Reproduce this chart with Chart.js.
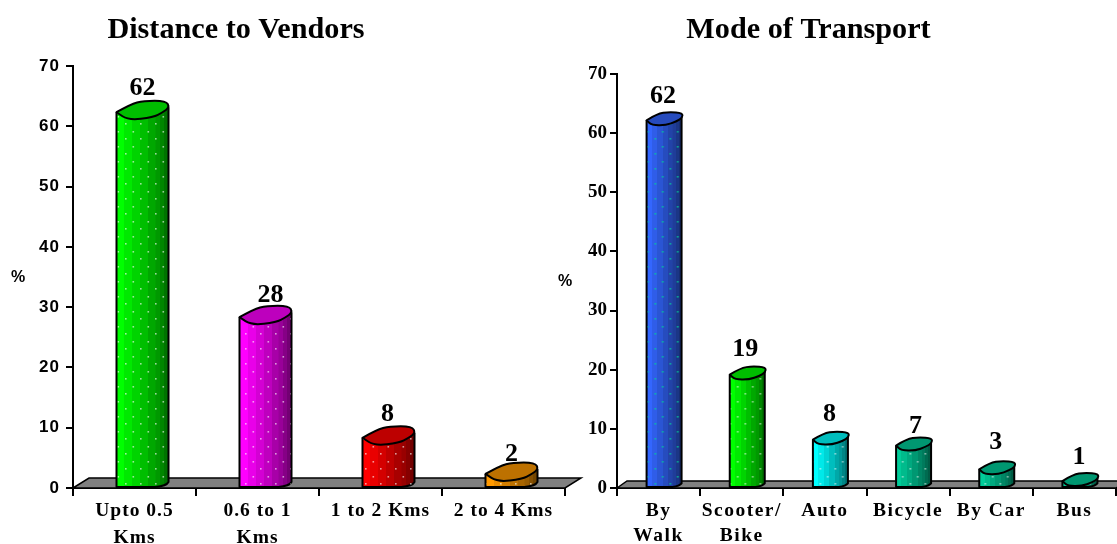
<!DOCTYPE html>
<html>
<head>
<meta charset="utf-8">
<script src="https://cdn.jsdelivr.net/npm/chart.js@4/dist/chart.umd.min.js"></script>
<style>
    html, body { margin: 0; padding: 0; background: #fff; overflow: hidden; }
    canvas { position: absolute; top: 0; }
    #distanceChart { left: 0; }
    #transportChart { left: 545px; }
</style>
</head>
<body>
<canvas id="distanceChart" width="585" height="544"></canvas>
<canvas id="transportChart" width="572" height="544"></canvas>
<script>
// Datos
const distanceLabels = [['Upto 0.5', 'Kms'], ['0.6 to 1', 'Kms'], '1 to 2 Kms', '2 to 4 Kms'];
const distanceValues = [62, 28, 8, 2];
const distanceColors = ['#00ff00', '#ff00ff', '#ff0000', '#ff9900'];

const transportLabels = [['By', 'Walk'], ['Scooter/', 'Bike'], 'Auto', 'Bicycle', 'By Car', 'Bus'];
const transportValues = [62, 19, 8, 7, 3, 1];
const transportColors = ['#3366ff', '#00ff00', '#00ffff', '#00cc99', '#00cc99', '#00cc99'];

const yTicks = [0, 10, 20, 30, 40, 50, 60, 70];

function shade(hex, f) {
    const n = parseInt(hex.slice(1), 16);
    return `rgb(${Math.round((n >> 16) * f)},${Math.round(((n >> 8) & 255) * f)},${Math.round((n & 255) * f)})`;
}

// Gradiente por bandas, como el relleno del cilindro
function bands(ctx, x0, x1, color, from, to, n) {
    const g = ctx.createLinearGradient(x0, 0, x1, 0);
    for (let i = 0; i < n; i++) {
        const c = shade(color, from + (to - from) * i / (n - 1));
        g.addColorStop(i / n, c);
        g.addColorStop((i + 1) / n, c);
    }
    return g;
}

function dotPattern(ctx, color) {
    const tile = document.createElement('canvas');
    tile.width = tile.height = 15;
    const t = tile.getContext('2d');
    t.fillStyle = color;
    t.fillRect(3, 3, 1.6, 1.6);
    t.fillRect(10.5, 11, 1.6, 1.6);
    return ctx.createPattern(tile, 'repeat');
}

// Chart.js no tiene letter-spacing para las etiquetas de los ejes
function spaceLabels(scale, spacing) {
    if (scale.spaced) return;
    scale.spaced = true;
    const original = scale.drawLabels;
    scale.drawLabels = function (area) {
        this.ctx.letterSpacing = spacing;
        original.call(this, area);
        this.ctx.letterSpacing = '0px';
    };
}

// Contorno cerrado suavizado, con la esquina izquierda en punta
function capPath(ctx, pts) {
    const n = pts.length;
    ctx.beginPath();
    ctx.moveTo(pts[0][0], pts[0][1]);
    for (let k = 1; k < n; k++) {
        const next = pts[(k + 1) % n];
        ctx.quadraticCurveTo(pts[k][0], pts[k][1], (pts[k][0] + next[0]) / 2, (pts[k][1] + next[1]) / 2);
    }
    ctx.closePath();
}

// Cara lateral y tapa de cada barra, mas el piso gris y los textos sueltos
const scene3d = {
    id: 'scene3d',
    afterLayout(chart) {
        const o = chart.options.plugins.scene3d;
        chart.titleBlock.left = o.titleX - 200;
        chart.titleBlock.right = o.titleX + 200;
        spaceLabels(chart.scales.x, o.xSpacing);
        spaceLabels(chart.scales.y, o.ySpacing);
    },
    beforeDatasetsDraw(chart) {
        const o = chart.options.plugins.scene3d;
        const { ctx, chartArea: a } = chart;
        ctx.save();
        ctx.beginPath();
        ctx.moveTo(a.left, a.bottom);
        ctx.lineTo(a.left + o.floorX, a.bottom - o.floorY);
        ctx.lineTo(a.right + o.floorX, a.bottom - o.floorY);
        ctx.lineTo(a.right, a.bottom);
        ctx.closePath();
        ctx.fillStyle = '#808080';
        ctx.fill();
        ctx.lineWidth = 1.5;
        ctx.strokeStyle = '#000';
        ctx.stroke();
        ctx.restore();
        ctx.save();
        ctx.translate(o.shift, 0);
    },
    afterDatasetsDraw(chart) {
        const o = chart.options.plugins.scene3d;
        const ctx = chart.ctx;
        const colors = chart.data.datasets[0].colors;
        chart.getDatasetMeta(0).data.forEach((bar, i) => {
            const x0 = bar.x - bar.width / 2;
            const x1 = bar.x + bar.width / 2;
            const xr = x1 + o.depth;
            const top = bar.y - o.capLift;
            const base = bar.base;
            const rise = Math.min(o.depth * 0.45, 5);

            // lateral
            ctx.beginPath();
            ctx.moveTo(x1 - 1, Math.min(top, base));
            ctx.lineTo(xr, Math.min(top - 5, base - rise));
            ctx.lineTo(xr, base - rise);
            ctx.quadraticCurveTo(xr - 2, base - 1, x1 - 1, base);
            ctx.closePath();
            ctx.fillStyle = bands(ctx, x1 - 1, xr, colors[i], 0.6, 0.45, 3);
            ctx.fill();
            ctx.lineWidth = 2;
            ctx.lineJoin = 'round';
            ctx.strokeStyle = '#000';

            // contorno izquierdo, inferior y derecho
            ctx.beginPath();
            ctx.moveTo(x0, top);
            ctx.lineTo(x0, base);
            ctx.lineTo(x1 - 1, base);
            ctx.quadraticCurveTo(xr - 2, base - 1, xr, base - rise);
            ctx.lineTo(xr, top - 5);
            ctx.stroke();

            // puntos sobre todo el cuerpo
            ctx.beginPath();
            ctx.rect(x0 + 1, top, xr - x0 - 2, base - top - 1);
            ctx.fillStyle = dotPattern(ctx, o.dots[i]);
            ctx.fill();

            // tapa
            const w = xr - x0;
            capPath(ctx, o.cap.map(p => [x0 + p[0] * w, top + p[1] * o.capH]));
            ctx.fillStyle = shade(colors[i], 0.74);
            ctx.fill();
            ctx.stroke();

            // valor
            ctx.save();
            ctx.fillStyle = '#000';
            ctx.font = 'bold 26px "Liberation Serif"';
            ctx.textAlign = 'center';
            ctx.textBaseline = 'middle';
            ctx.fillText(chart.data.datasets[0].data[i], bar.x + o.valueDx[i], bar.y + o.valueDy[i]);
            ctx.restore();
        });
        ctx.restore();

        // el signo % va derecho, no girado
        ctx.save();
        ctx.fillStyle = '#000';
        ctx.font = 'bold 16px "Liberation Sans"';
        ctx.textAlign = 'center';
        ctx.textBaseline = 'middle';
        ctx.fillText('%', o.percent[0], o.percent[1]);
        ctx.restore();
    }
};

function makeChart(id, labels, values, colors, s) {
    return new Chart(document.getElementById(id), {
        type: 'bar',
        data: {
            labels: labels,
            datasets: [{
                data: values,
                colors: colors,
                barThickness: s.front,
                borderWidth: 0,
                backgroundColor(c) {
                    const x = c.chart.scales.x ? c.chart.scales.x.getPixelForValue(c.dataIndex) : NaN;
                    if (!Number.isFinite(x)) return colors[c.dataIndex || 0];
                    return bands(c.chart.ctx, x - s.front / 2, x + s.front / 2, colors[c.dataIndex], 1, 0.66, 5);
                }
            }]
        },
        plugins: [scene3d],
        options: {
            responsive: false,
            animation: false,
            layout: { padding: { right: s.padRight, left: 0, top: 0, bottom: 0 } },
            plugins: {
                legend: { display: false },
                tooltip: { enabled: false },
                title: {
                    display: true,
                    text: s.title,
                    color: '#000',
                    font: { family: '"Liberation Serif"', size: 30.2, weight: 'bold', lineHeight: 1.2 },
                    padding: { top: 12, bottom: s.top - 12 - 36.24 }
                },
                scene3d: s
            },
            scales: {
                x: {
                    afterFit(scale) { scale.height = 544 - s.bottom; },
                    border: { color: '#000', width: 2 },
                    grid: { display: true, drawOnChartArea: false, color: '#000', lineWidth: 2, tickLength: 8 },
                    ticks: {
                        color: '#000', padding: 2, autoSkip: false, maxRotation: 0, minRotation: 0,
                        font: { family: '"Liberation Serif"', size: 19.5, weight: 'bold', lineHeight: s.xLine }
                    }
                },
                y: {
                    min: 0,
                    max: 70,
                    afterFit(scale) { scale.width = s.left; },
                    afterBuildTicks(scale) { scale.ticks = yTicks.map(v => ({ value: v })); },
                    border: { color: '#000', width: 2 },
                    grid: { display: true, drawOnChartArea: false, color: '#000', lineWidth: 2, tickLength: 7 },
                    ticks: { color: '#000', padding: s.yPad, font: s.yFont }
                }
            }
        }
    });
}

makeChart('distanceChart', distanceLabels, distanceValues, distanceColors, {
    title: 'Distance to Vendors', titleX: 236, top: 66, bottom: 488, left: 73, padRight: 20,
    front: 40, depth: 12, shift: 2, capLift: 2, capH: 16,
    cap: [[0, 0], [0.27, -0.5], [0.52, -0.72], [0.95, -0.72], [1.02, -0.3], [0.88, 0.02], [0.71, 0.32], [0.23, 0.5]],
    valueDx: [6, 11, 5, 6], valueDy: [-26, -24, -25, -22],
    dots: distanceColors.map(() => 'rgba(255,255,255,0.6)'),
    floorX: 16, floorY: 10, percent: [18, 278],
    xSpacing: '1px', ySpacing: '1px', xLine: 1.35,
    yPad: 6, yFont: { family: '"Liberation Sans"', size: 17, weight: 'bold' }
});

makeChart('transportChart', transportLabels, transportValues, transportColors, {
    title: 'Mode of Transport', titleX: 263.5, top: 74, bottom: 488, left: 72, padRight: 1,
    front: 27, depth: 8, shift: 1.5, capLift: 1, capH: 12,
    cap: [[0, 0], [0.3, -0.55], [0.65, -0.7], [1.03, -0.6], [1.02, -0.2], [0.85, 0.1], [0.55, 0.42], [0.15, 0.4]],
    valueDx: [3, 2, 3, 6, 3, 3], valueDy: [-25, -26, -26, -20, -28, -25],
    dots: ['rgba(0,204,153,0.85)', 'rgba(255,255,255,0.6)', 'rgba(255,255,255,0.6)', 'rgba(255,255,255,0.6)', 'rgba(255,255,255,0.6)', 'rgba(255,255,255,0.6)'],
    floorX: 10, floorY: 7, percent: [20, 282],
    xSpacing: '1.5px', ySpacing: '0px', xLine: 1.3,
    yPad: 3, yFont: { family: '"Liberation Serif"', size: 19, weight: 'bold' }
});
</script>
</body>
</html>
